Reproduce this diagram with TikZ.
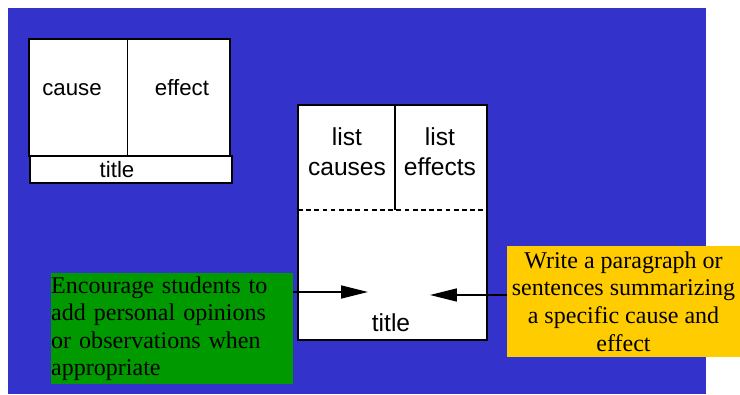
\documentclass[tikz,border=0pt]{standalone}
\usepackage{fontspec}
\setmainfont{Liberation Serif}
\setsansfont{Liberation Sans}
\usetikzlibrary{arrows.meta}
\definecolor{bgblue}{RGB}{51,51,204}
\definecolor{notegreen}{RGB}{0,153,0}
\definecolor{noteyellow}{RGB}{255,204,0}
\begin{document}
\begin{tikzpicture}[x=0.03cm,y=-0.03cm,
  flap/.style={line width=1.5pt,fill=white},
  smalltxt/.style={font=\sffamily\fontsize{19}{22}\selectfont,anchor=base},
  bigtxt/.style={font=\sffamily\fontsize{21}{25.5}\selectfont,align=center},
  note/.style={font=\fontsize{20.5}{23.5}\selectfont,inner sep=0pt,minimum height=3.33cm},
  pointer/.style={line width=1.6pt,-{Triangle[length=23pt,width=11pt]}}]
\useasboundingbox (0,0) rectangle (740,394);
\fill[bgblue] (8,8) rectangle (706,394);
% two-tab foldable
\draw[flap] (30,156) rectangle (232,183);
\draw[flap] (29,39) rectangle (230,156);
\draw[line width=0.8pt] (127,39) -- (127,156);
\node[smalltxt] (cause) at (72,95) {cause};
\node[smalltxt] (effect) at (182,95) {effect};
\node[smalltxt] (title1) at (117,177) {title};
% bigger foldable
\draw[flap] (298,105) rectangle (487,340);
\draw[line width=1.6pt] (395,105) -- (395,210);
\draw[line width=1pt,dash pattern=on 4pt off 3pt] (298,210) -- (487,210);
\node[bigtxt] (causes) at (347,152) {list\\causes};
\node[bigtxt] (effects) at (440,152) {list\\effects};
\node[bigtxt] (title2) at (391,323) {title};
% notes
\node[note,fill=notegreen,anchor=north west,text width=7.26cm,align=left] (green) at (51,273)
  {Encourage students to\\add personal opinions\\or observations when\\appropriate};
\node[note,fill=noteyellow,minimum width=6.99cm,align=center] (yellow) at (623.5,301.5)
  {Write a paragraph or\\sentences summarizing\\a specific cause and\\effect};
\coordinate (lefttip) at (368,292);
\coordinate (righttip) at (430,295);
\draw[pointer] (lefttip -| green.east) -- (lefttip);
\draw[pointer] (righttip -| yellow.west) -- (righttip);
\end{tikzpicture}
\end{document}
